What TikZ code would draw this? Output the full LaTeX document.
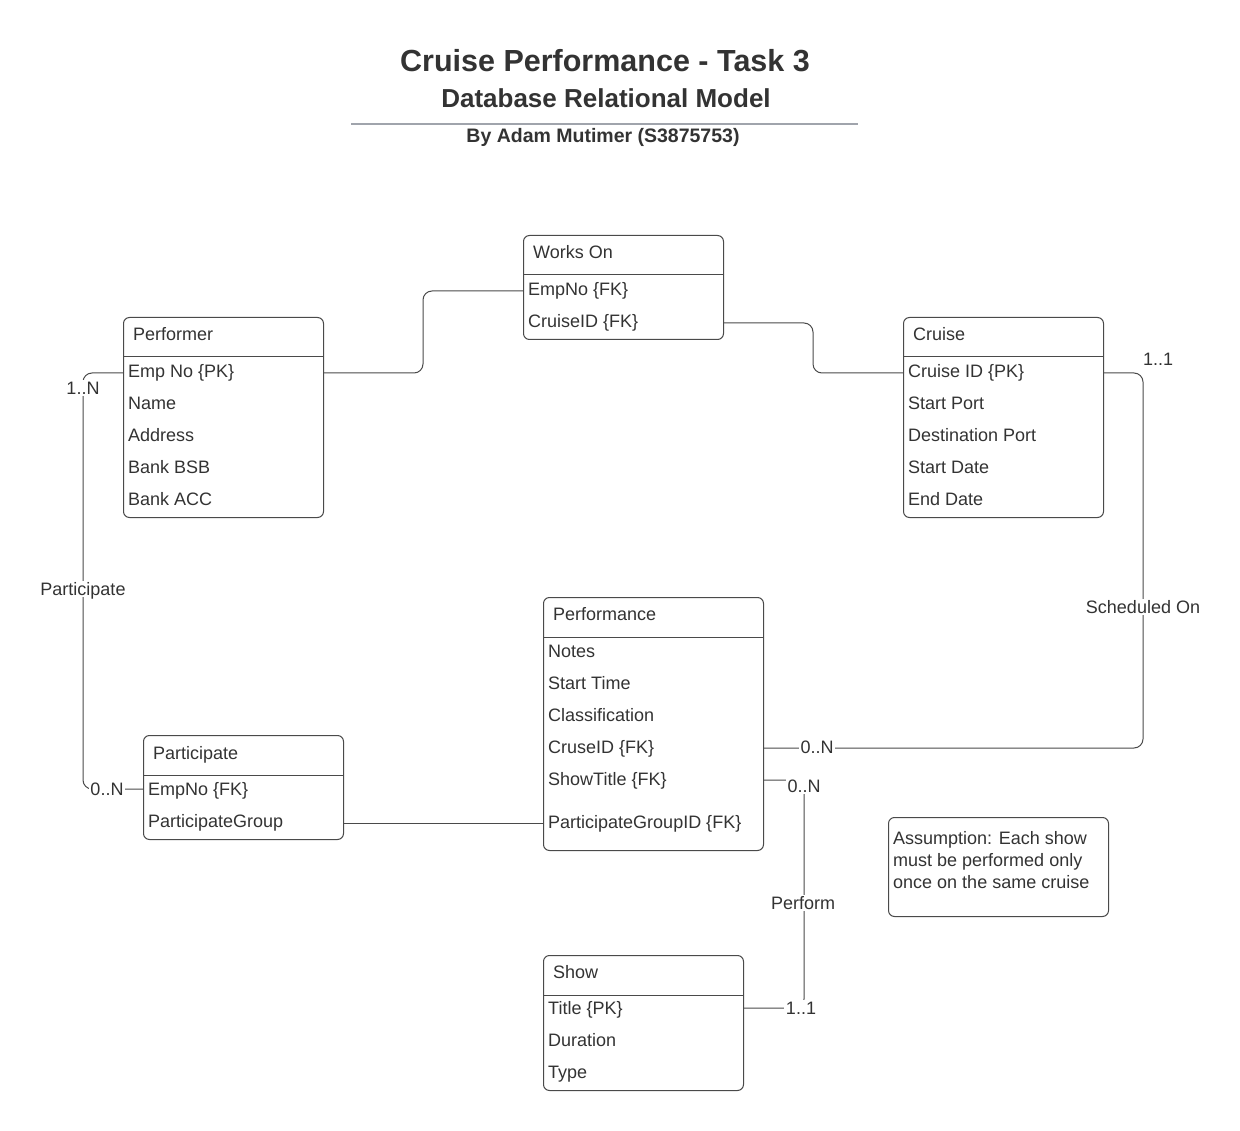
\documentclass[tikz,border=0pt]{standalone}
\usepackage{fontspec}
\setmainfont{Liberation Sans}
\definecolor{txt}{HTML}{333333}
\definecolor{linec}{HTML}{4A4A4A}
\definecolor{rulec}{HTML}{A0A4AC}
\newcommand\rowfont{\fontsize{18}{22}\selectfont}
\tikzset{
  ent/.style={draw=linec, rounded corners=6pt, line width=1pt, fill=white, inner sep=0pt, anchor=north west},
  hdr/.style={draw=linec, line width=1pt},
  ttl/.style={anchor=west, text=txt, font=\rowfont, inner sep=0pt, text height=13pt, text depth=0pt},
  rowtxt/.style={anchor=west, text=txt, font=\rowfont, inner sep=0pt, text height=13pt, text depth=0pt},
  conn/.style={draw=linec, line width=1pt, rounded corners=9pt},
  lab/.style={fill=white, text=txt, font=\rowfont, inner sep=1.5pt, text height=13pt, text depth=0pt},
}
\begin{document}
\begin{tikzpicture}[x=1pt,y=-1pt]
\useasboundingbox[fill=white] (0,0) rectangle (1240,1131);

% ---------- titles ----------
\node[text=txt, font=\fontsize{30.5}{34}\selectfont\bfseries] (t1) at (605,61) {Cruise Performance - Task 3};
\node[text=txt, font=\fontsize{26}{30}\selectfont\bfseries] (t2) at (606,98) {Database Relational Model};
\coordinate (rl) at (351,124);
\coordinate (rr) at (858,124);
\draw[rulec, line width=1.5pt] (rl) -- (rr);
\node[text=txt, font=\fontsize{19.5}{22}\selectfont\bfseries] (t3) at (603,137) {By Adam Mutimer (S3875753)};

% ---------- Works On ----------
\node[ent, minimum width=200pt, minimum height=104pt] (works) at (523,235) {};
\draw[hdr] (523,275) -- (723,275);
\node[ttl] (worksT) at (533,252) {Works On};
\node[rowtxt] (w1) at (528,289) {EmpNo \{FK\}};
\node[rowtxt] (w2) at (528,321) {CruiseID \{FK\}};

% ---------- Performer ----------
\node[ent, minimum width=200pt, minimum height=200pt] (performer) at (123,317) {};
\draw[hdr] (123,357) -- (323,357);
\node[ttl] (performerT) at (133,334) {Performer};
\node[rowtxt] (p1) at (128,371) {Emp No \{PK\}};
\node[rowtxt] (p2) at (128,403) {Name};
\node[rowtxt] (p3) at (128,435) {Address};
\node[rowtxt] (p4) at (128,467) {Bank BSB};
\node[rowtxt] (p5) at (128,499) {Bank ACC};

% ---------- Cruise ----------
\node[ent, minimum width=200pt, minimum height=200pt] (cruise) at (903,317) {};
\draw[hdr] (903,357) -- (1103,357);
\node[ttl] (cruiseT) at (913,334) {Cruise};
\node[rowtxt] (c1) at (908,371) {Cruise ID \{PK\}};
\node[rowtxt] (c2) at (908,403) {Start Port};
\node[rowtxt] (c3) at (908,435) {Destination Port};
\node[rowtxt] (c4) at (908,467) {Start Date};
\node[rowtxt] (c5) at (908,499) {End Date};

% ---------- Performance ----------
\node[ent, minimum width=220pt, minimum height=253pt] (perf) at (543,597) {};
\draw[hdr] (543,637) -- (763,637);
\node[ttl] (perfT) at (553,614) {Performance};
\node[rowtxt] (f1) at (548,651) {Notes};
\node[rowtxt] (f2) at (548,683) {Start Time};
\node[rowtxt] (f3) at (548,715) {Classification};
\node[rowtxt] (f4) at (548,747) {CruseID \{FK\}};
\node[rowtxt] (f5) at (548,779) {ShowTitle \{FK\}};
\node[rowtxt] (f6) at (548,822) {ParticipateGroupID \{FK\}};

% ---------- Participate ----------
\node[ent, minimum width=200pt, minimum height=104pt] (part) at (143,735) {};
\draw[hdr] (143,775) -- (343,775);
\node[ttl] (partT) at (153,753) {Participate};
\node[rowtxt] (a1) at (148,789) {EmpNo \{FK\}};
\node[rowtxt] (a2) at (148,821) {ParticipateGroup};

% ---------- Show ----------
\node[ent, minimum width=200pt, minimum height=135pt] (show) at (543,955) {};
\draw[hdr] (543,995) -- (743,995);
\node[ttl] (showT) at (553,972) {Show};
\node[rowtxt] (s1) at (548,1008) {Title \{PK\}};
\node[rowtxt] (s2) at (548,1040) {Duration};
\node[rowtxt] (s3) at (548,1072) {Type};

% ---------- Note ----------
\node[ent, minimum width=220pt, minimum height=99pt] (note) at (888,817) {};
\node[anchor=north west, text=txt, font=\fontsize{18}{22}\selectfont, align=left, inner sep=0pt] (noteT) at (893,831) {Assumption: Each show\\must be performed only\\once on the same cruise};

% ---------- connectors ----------
\draw[conn] (performer.east |- 0,373) -- (423,373) -- (423,291) -- (works.west |- 0,291);
\draw[conn] (works.east |- 0,323) -- (813,323) -- (813,373) -- (cruise.west |- 0,373);
\draw[conn] (cruise.east |- 0,373) -- (1143,373) -- (1143,748) -- (perf.east |- 0,748);
\draw[conn] (performer.west |- 0,373) -- (83,373) -- (83,789) -- (part.west |- 0,789);
\draw[conn] (part.east |- 0,823) -- (perf.west |- 0,823);
\draw[conn] (perf.east |- 0,780) -- (804,780) -- (804,1008) -- (show.east |- 0,1008);

% ---------- connector labels ----------
\node[lab] (l1) at (83,388) {1..N};
\node[lab] (l2) at (83,589) {Participate};
\node[lab] (l3) at (107,789) {0..N};
\node[text=txt, font=\rowfont, inner sep=1pt, text height=13pt, text depth=0pt] (l4) at (1158,359) {1..1};
\node[lab] (l5) at (1143,607) {Scheduled On};
\node[lab] (l6) at (817,747) {0..N};
\node[lab] (l7) at (804,786) {0..N};
\node[lab] (l8) at (803,903) {Perform};
\node[lab] (l9) at (801,1008) {1..1};
\end{tikzpicture}
\end{document}
